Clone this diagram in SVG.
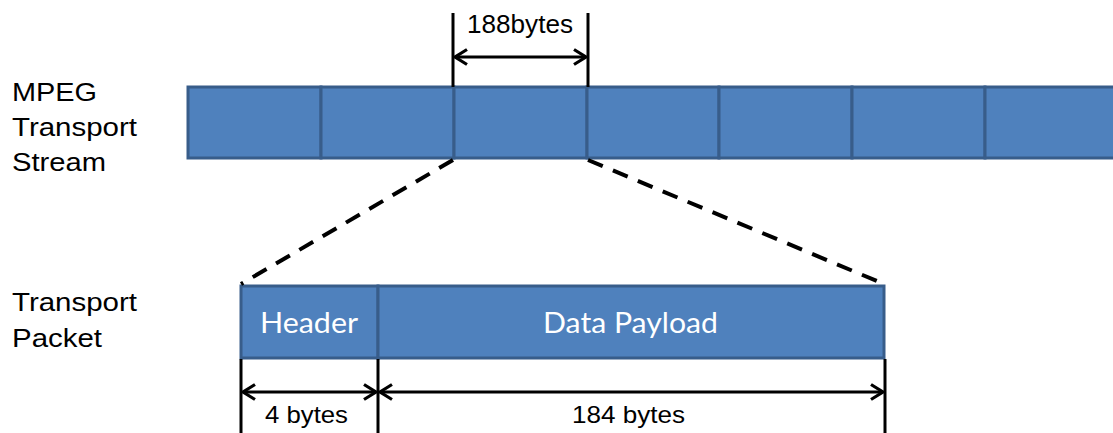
<svg xmlns="http://www.w3.org/2000/svg" width="1113" height="433" viewBox="0 0 1113 433">
<style>
.cell{fill:#4f81bd;stroke:#385d8a;stroke-width:3}
.lbl{font-family:"Liberation Sans",Arial,sans-serif;fill:#000}
.in{font-family:Lato,"Open Sans",sans-serif;fill:#fff;font-size:28px}
.dim{stroke:#000;stroke-width:3;fill:none}
.dash{stroke:#000;stroke-width:4;stroke-dasharray:16 11;fill:none}
</style>
<defs>
<marker id="ah" viewBox="0 0 14 18" refX="13" refY="9" markerWidth="14" markerHeight="18" markerUnits="userSpaceOnUse" orient="auto-start-reverse">
<path d="M1,1.5 L13,9 L1,16.5" fill="none" stroke="#000" stroke-width="3.2"/>
</marker>
</defs>
<g id="labels">
<text class="lbl" font-size="26" x="12" y="101" textLength="85" lengthAdjust="spacingAndGlyphs">MPEG</text>
<text class="lbl" font-size="26" x="12" y="136" textLength="125" lengthAdjust="spacingAndGlyphs">Transport</text>
<text class="lbl" font-size="26" x="12" y="171" textLength="94" lengthAdjust="spacingAndGlyphs">Stream</text>
<text class="lbl" font-size="26" x="12" y="311" textLength="125" lengthAdjust="spacingAndGlyphs">Transport</text>
<text class="lbl" font-size="26" x="12" y="347" textLength="90" lengthAdjust="spacingAndGlyphs">Packet</text>
</g>
<g id="stream">
<rect class="cell" x="188" y="87" width="133" height="71"/>
<rect class="cell" x="321" y="87" width="133" height="71"/>
<rect class="cell" x="454" y="87" width="133" height="71"/>
<rect class="cell" x="587" y="87" width="132" height="71"/>
<rect class="cell" x="719" y="87" width="133" height="71"/>
<rect class="cell" x="852" y="87" width="133" height="71"/>
<rect class="cell" x="985" y="87" width="133" height="71"/>
</g>
<g id="packet">
<g id="header">
<rect class="cell" x="241" y="286" width="137" height="72"/>
<text class="in" x="260" y="333" textLength="98" lengthAdjust="spacingAndGlyphs">Header</text>
</g>
<g id="payload">
<rect class="cell" x="378" y="286" width="506" height="72"/>
<text class="in" x="543" y="333" textLength="175" lengthAdjust="spacingAndGlyphs">Data Payload</text>
</g>
</g>
<g id="connectors">
<line class="dash" x1="453" y1="160" x2="241" y2="284"/>
<line class="dash" x1="588" y1="160" x2="884" y2="284"/>
<line class="dim" x1="453" y1="13" x2="453" y2="87"/>
<line class="dim" x1="588" y1="13" x2="588" y2="87"/>
<line class="dim" x1="455" y1="57" x2="586" y2="57" marker-start="url(#ah)" marker-end="url(#ah)"/>
<line class="dim" x1="241" y1="359" x2="241" y2="433"/>
<line class="dim" x1="378" y1="359" x2="378" y2="433"/>
<line class="dim" x1="885" y1="359" x2="885" y2="433"/>
<line class="dim" x1="243" y1="392" x2="376" y2="392" marker-start="url(#ah)" marker-end="url(#ah)"/>
<line class="dim" x1="380" y1="392" x2="883" y2="392" marker-start="url(#ah)" marker-end="url(#ah)"/>
</g>
<g id="dimlabels">
<text class="lbl" font-size="25" x="467" y="33" textLength="106" lengthAdjust="spacingAndGlyphs">188bytes</text>
<text class="lbl" font-size="24" x="265" y="423" textLength="83" lengthAdjust="spacingAndGlyphs">4 bytes</text>
<text class="lbl" font-size="24" x="572" y="423" textLength="113" lengthAdjust="spacingAndGlyphs">184 bytes</text>
</g>
</svg>
